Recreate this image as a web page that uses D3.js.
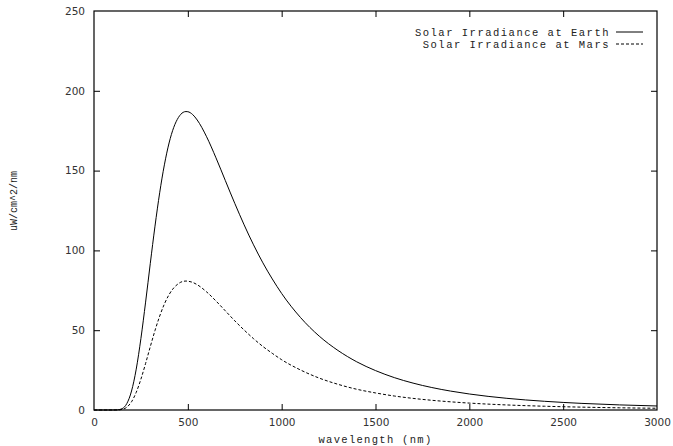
<!DOCTYPE html>
<html>
<head>
<meta charset="utf-8">
<script src="https://cdn.jsdelivr.net/npm/d3@7"></script>
<style>
  html, body { margin: 0; padding: 0; background: #fff; }
  svg { display: block; }
</style>
</head>
<body>
<svg id="chart" width="673" height="446"></svg>
<script>
// ---- data ----
const wavelengths = [0,50,100,125,150,175,200,225,250,275,300,325,350,375,400,425,450,475,490,500,525,550,600,650,700,750,800,850,900,950,1000,1100,1200,1300,1400,1500,1600,1700,1800,1900,2000,2200,2400,2600,2800,3000];
const earth = [0,0,0.002,0.08,0.85,4.05,11.9,25.6,44.8,67.6,91.9,115.2,136.1,153.6,167.3,177.1,183.3,186.5,187.0,186.9,185.2,181.7,171.2,158.0,143.7,129.5,116.0,103.5,92.2,82.1,73.0,58.0,46.3,37.3,30.2,24.7,20.3,16.85,14.08,11.85,10.03,7.32,5.46,4.14,3.20,2.52];
const mars = [0,0,0.001,0.03,0.37,1.75,5.14,11.06,19.35,29.2,39.7,49.8,58.8,66.4,72.3,76.5,79.2,80.6,80.8,80.7,80.0,78.5,74.0,68.3,62.1,55.9,50.1,44.7,39.8,35.5,31.5,25.1,20.0,16.1,13.0,10.7,8.77,7.28,6.08,5.12,4.33,3.16,2.36,1.79,1.38,1.09];
const seriesNames = ["Solar Irradiance at Earth", "Solar Irradiance at Mars"];
const xTicks = [0,500,1000,1500,2000,2500,3000];
const yTicks = [0,50,100,150,200,250];
const xLabel = "wavelength (nm)";
const yLabel = "uW/cm^2/nm";

(function () {
// ---- layout ----
const svg = d3.select("#chart");
const pL = 94, pR = 657, pT = 11, pB = 410;
const x = d3.scaleLinear().domain([0, 3000]).range([pL, pR]);
const y = d3.scaleLinear().domain([0, 250]).range([pB, pT]);

const tickFont = "DejaVu Sans, sans-serif";
const monoFont = "Liberation Mono, DejaVu Sans Mono, monospace";
const TL = 6;

// axes with inward ticks
const gB = svg.append("g").attr("transform", `translate(0,${pB})`)
  .call(d3.axisBottom(x).tickValues(xTicks).tickSize(-TL).tickPadding(9).tickFormat(d3.format("d")));
const gT = svg.append("g").attr("transform", `translate(0,${pT})`)
  .call(d3.axisTop(x).tickValues(xTicks).tickSize(-TL).tickFormat(""));
const gL = svg.append("g").attr("transform", `translate(${pL},0)`)
  .call(d3.axisLeft(y).tickValues(yTicks).tickSize(-TL).tickPadding(9).tickFormat(d3.format("d")));
const gR = svg.append("g").attr("transform", `translate(${pR},0)`)
  .call(d3.axisRight(y).tickValues(yTicks).tickSize(-TL).tickFormat(""));

[gB, gT, gL, gR].forEach(g => {
  g.select(".domain").remove();
  g.selectAll(".tick line").attr("stroke", "#000").attr("stroke-width", 1);
  g.selectAll(".tick text").attr("font-family", tickFont).attr("font-size", 10.5).attr("fill", "#333");
});
gB.selectAll(".tick").filter(d => d === 0 || d === 3000).select("line").remove();
gT.selectAll(".tick").filter(d => d === 0 || d === 3000).select("line").remove();
gL.selectAll(".tick").filter(d => d === 0 || d === 250).select("line").remove();
gR.selectAll(".tick").filter(d => d === 0 || d === 250).select("line").remove();

// frame
svg.append("rect")
  .attr("x", pL).attr("y", pT)
  .attr("width", pR - pL).attr("height", pB - pT)
  .attr("fill", "none").attr("stroke", "#000").attr("stroke-width", 1.2);

// lines
const lineFor = vals => d3.line()
  .x((d, i) => x(wavelengths[i]))
  .y(d => y(d))
  .curve(d3.curveMonotoneX)(vals);

svg.append("path").attr("d", lineFor(earth))
  .attr("fill", "none").attr("stroke", "#000").attr("stroke-width", 1);
svg.append("path").attr("d", lineFor(mars))
  .attr("fill", "none").attr("stroke", "#000").attr("stroke-width", 1)
  .attr("stroke-dasharray", "3,2");

// legend
const legY = [32, 44];
seriesNames.forEach((name, i) => {
  svg.append("text")
    .attr("x", 610).attr("y", legY[i]).attr("dy", "0.35em")
    .attr("text-anchor", "end")
    .attr("font-family", monoFont).attr("font-size", 10.5)
    .attr("letter-spacing", 1.5).attr("fill", "#222")
    .text(name);
  svg.append("line")
    .attr("x1", 616).attr("x2", 643).attr("y1", legY[i]).attr("y2", legY[i])
    .attr("stroke", "#000").attr("stroke-width", 1)
    .attr("stroke-dasharray", i === 1 ? "3,2" : null);
});

// axis labels
svg.append("text")
  .attr("x", (pL + pR) / 2).attr("y", 443)
  .attr("text-anchor", "middle")
  .attr("font-family", monoFont).attr("font-size", 10.5)
  .attr("letter-spacing", 1.3).attr("fill", "#222")
  .text(xLabel);
svg.append("text")
  .attr("transform", `translate(17,201) rotate(-90)`)
  .attr("text-anchor", "middle")
  .attr("font-family", monoFont).attr("font-size", 10)
  .attr("fill", "#222")
  .text(yLabel);
})();
</script>
</body>
</html>
